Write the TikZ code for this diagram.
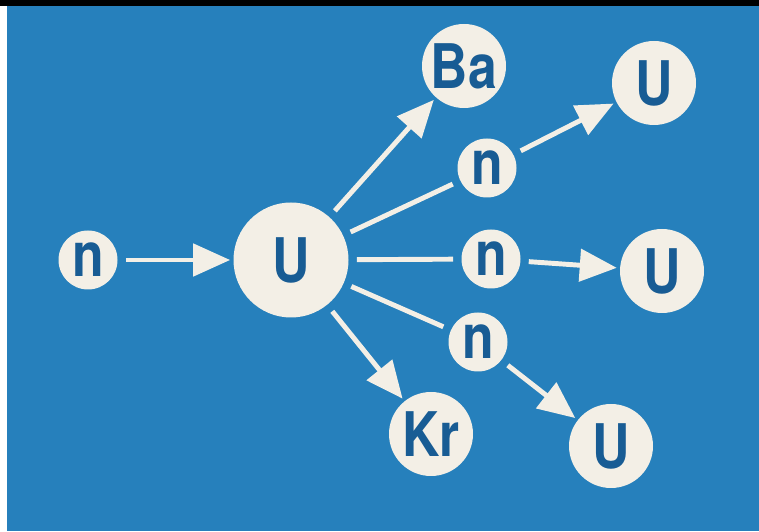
\documentclass[tikz,border=0pt]{standalone}
\usepackage{fontspec}
\setmainfont{TeX Gyre Heros}
\newfontfamily\platefont[FakeStretch=0.84]{TeX Gyre Heros}
\usetikzlibrary{arrows.meta}

\definecolor{plate}{RGB}{38,128,188}
\definecolor{ink}{RGB}{24,92,148}
\definecolor{cream}{RGB}{243,239,230}

\begin{document}
\begin{tikzpicture}[
  nucleus/.style={circle, fill=cream, text=ink, inner sep=0pt,
    font=\platefont\fontsize{35}{35}\selectfont\bfseries},
  neutron/.style={nucleus, minimum size=1.18cm},
  atom/.style={nucleus, minimum size=1.68cm},
  bigatom/.style={nucleus, minimum size=2.3cm},
  ray/.style={cream, line width=2.8pt, shorten <=0.16cm, shorten >=0.16cm},
  shot/.style={ray, -{Triangle[length=0.74cm, width=0.64cm]}, shorten >=0.06cm}
]
%%% background
\useasboundingbox (0,0) rectangle (15.18,10.62);
\fill [white] (0,0) rectangle (15.18,10.62);
\fill [plate] (0.14,0) rectangle (15.18,10.5);
\fill [black] (0,10.5) rectangle (15.18,10.62);

%%% nodes

% incoming neutron and target
\node [neutron] (n0) at (1.76, 5.42) {n};
\node [bigatom] (u0) at (5.82, 5.42) {U};

% fission products
\node [atom] (ba) at (9.28, 9.30) {Ba};
\node [atom] (kr) at (8.62, 1.94) {Kr};

% released neutrons
\node [neutron] (n1) at (9.74, 7.26) {n};
\node [neutron] (n2) at (9.82, 5.44) {n};
\node [neutron] (n3) at (9.56, 3.78) {n};

% next generation
\node [atom] (u1) at (13.08, 8.96) {U};
\node [atom] (u2) at (13.24, 5.20) {U};
\node [atom] (u3) at (12.22, 1.70) {U};

%%% edges

% capture
\draw (n0) [shot] to (u0);

% split
\draw (u0) [shot] to (ba);
\draw (u0) [shot] to (kr);
\draw (u0) [ray] to (n1);
\draw (u0) [ray] to (n2);
\draw (u0) [ray] to (n3);

% chain
\draw (n1) [shot] to (u1);
\draw (n2) [shot] to (u2);
\draw (n3) [shot] to (u3);
\end{tikzpicture}
\end{document}
